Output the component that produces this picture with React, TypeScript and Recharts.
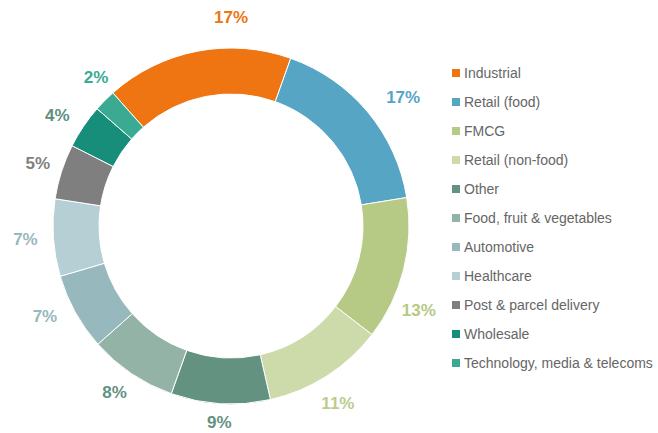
import React from "react";
import { PieChart, Pie, Cell, Legend } from "recharts";

const categories = [
  "Industrial",
  "Retail (food)",
  "FMCG",
  "Retail (non-food)",
  "Other",
  "Food, fruit & vegetables",
  "Automotive",
  "Healthcare",
  "Post & parcel delivery",
  "Wholesale",
  "Technology, media & telecoms",
];

const shares = [17, 17, 13, 11, 9, 8, 7, 7, 5, 4, 2];

const sliceColors = [
  "#EE7511",
  "#57A5C4",
  "#B6C985",
  "#CDDBAA",
  "#649280",
  "#93B3A6",
  "#97B8BD",
  "#B6CFD4",
  "#7F7F7F",
  "#168E79",
  "#3BAA92",
];

const labelColors = [
  "#EE7511",
  "#57A5C4",
  "#B6C985",
  "#BACD8C",
  "#649280",
  "#649280",
  "#97B8BD",
  "#97B8BD",
  "#7F7F7F",
  "#5E9080",
  "#3BAA92",
];

// angular nudge (degrees, clockwise) applied to a few labels, as in the original
const labelNudge = [11, 3, 10, 1.5, 0, 1, 3, 0, 0, -1.5, 3];
const labelGap = [31, 37, 28, 29, 19, 25, 29, 28, 25, 28, 23];

const data = categories.map((name, i) => ({ name, value: shares[i] }));

const RAD = Math.PI / 180;
const FONT = "'Liberation Sans', Arial, sans-serif";

const renderLabel = (props: any) => {
  const { cx, cy, midAngle, outerRadius, index, value } = props;
  const ang = midAngle - labelNudge[index];
  const r = outerRadius + labelGap[index];
  const x = cx + r * Math.cos(-ang * RAD);
  const y = cy + r * Math.sin(-ang * RAD);
  return (
    <text
      x={x}
      y={y}
      fill={labelColors[index]}
      textAnchor="middle"
      dominantBaseline="central"
      fontSize={17}
      fontWeight={700}
      fontFamily={FONT}
    >
      {value}%
    </text>
  );
};

const renderLegend = () => (
  <div style={{ fontFamily: FONT }}>
    {categories.map((name, i) => (
      <div
        key={name}
        style={{ display: "flex", alignItems: "center", height: 29 }}
      >
        <span
          style={{
            display: "inline-block",
            width: 8,
            height: 8,
            background: sliceColors[i],
            marginRight: 4,
          }}
        />
        <span style={{ fontSize: 14, color: "#666666", whiteSpace: "nowrap" }}>
          {name}
        </span>
      </div>
    ))}
  </div>
);

export default function App() {
  return (
    <div style={{ position: "absolute", left: 0, top: 0, background: "#fff" }}>
      <PieChart
        width={658}
        height={433}
        margin={{ top: 0, right: 0, bottom: 0, left: 0 }}
      >
        <Pie
          data={data}
          dataKey="value"
          nameKey="name"
          cx={231}
          cy={226}
          innerRadius={132}
          outerRadius={178}
          startAngle={131.6}
          endAngle={-228.4}
          stroke="#ffffff"
          strokeWidth={1}
          label={renderLabel}
          labelLine={false}
          isAnimationActive={false}
        >
          {data.map((d, i) => (
            <Cell key={d.name} fill={sliceColors[i]} />
          ))}
        </Pie>
        <Legend
          content={renderLegend}
          wrapperStyle={{ position: "absolute", left: 452, top: 58, width: 206 }}
        />
      </PieChart>
    </div>
  );
}
